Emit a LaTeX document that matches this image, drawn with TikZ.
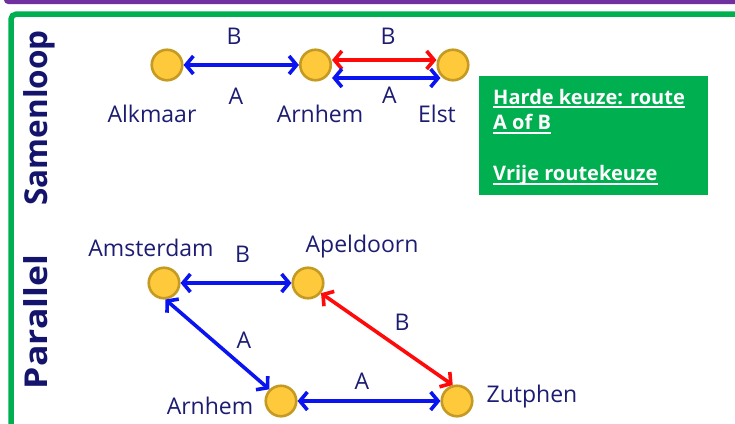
\documentclass[tikz,border=0pt]{standalone}
\usepackage{fontspec}
\setmainfont{Open Sans}
\usetikzlibrary{arrows.meta}
\definecolor{navy}{HTML}{1C1C72}
\definecolor{darknavy}{HTML}{14146C}
\definecolor{frgreen}{HTML}{00B050}
\definecolor{purp}{HTML}{7030A0}
\definecolor{stnfill}{HTML}{FFC93C}
\definecolor{stnedge}{HTML}{C49A22}
\definecolor{arblue}{HTML}{0A14F0}
\definecolor{arred}{HTML}{FF0A0A}
\newcommand\myul[1]{\setbox0\hbox{#1}\rlap{\vrule width \wd0 height -2.2pt depth 4.4pt}\box0}
\begin{document}
\begin{tikzpicture}[x=1pt,y=-1pt,
  station/.style={circle,fill=stnfill,draw=stnedge,line width=2.6pt,minimum size=30.5pt,inner sep=0pt},
  lbl/.style={text=navy,font=\fontsize{23}{26}\selectfont,anchor=base,inner sep=0pt},
  sidelbl/.style={text=darknavy,font=\fontsize{31.5}{32}\selectfont\bfseries,rotate=90,anchor=base,inner sep=0pt},
  boxline/.style={anchor=base west,text=white,font=\fontsize{20}{25.8}\selectfont\bfseries,inner sep=0pt},
  conn/.style={line width=3.6pt,{Straight Barb[length=7.5pt,width=18pt,line width=3.6pt]}-{Straight Barb[length=7.5pt,width=18pt,line width=3.6pt]}},
  blueconn/.style={conn,draw=arblue},
  redconn/.style={conn,draw=arred}]
\useasboundingbox (0,0) rectangle (735,423);
% purple bar
\fill[purp,rounded corners=4pt] (4,-20) rectangle (760,4);
% green frame
\draw[frgreen,line width=5.5pt,rounded corners=5pt] (11,440) -- (11,14.2) -- (760,14.2);
% side labels
\node[sidelbl] (samen) at (47.7,118) {Samenloop};
\node[sidelbl] (paral) at (47.7,322) {\scalebox{1.13}[1]{Parallel}};
% top stations
\node[station] (alk) at (167,65) {};
\node[station] (arn1) at (315.5,65) {};
\node[station] (elst) at (453,65) {};
\node[lbl] (talk) at (152,122) {Alkmaar};
\node[lbl] (tarn1) at (320,122) {Arnhem};
\node[lbl] (telst) at (437,122) {Elst};
\draw[blueconn] (alk) -- (arn1);
\draw[redconn] ([yshift=5pt]arn1.east) -- ([yshift=5pt]elst.west);
\draw[blueconn] ([yshift=-13pt,xshift=0pt]arn1.east) -- ([yshift=-13pt,xshift=4pt]elst.west);
\node[lbl] (b1) at (234,44) {B};
\node[lbl] (a1) at (236,104) {A};
\node[lbl] (b2) at (388,44) {B};
\node[lbl] (a2) at (389.5,103.5) {A};
% green box
\node[fill=frgreen,minimum width=229pt,minimum height=119pt,anchor=north west,inner sep=0pt] (box) at (479,76) {};
\node[boxline] (bl1) at (493,104) {\myul{Harde keuze: route}};
\node[boxline] (bl2) at (493,129.5) {\myul{A of B}};
\node[boxline] (bl3) at (493,180.7) {\myul{Vrije routekeuze}};
% bottom stations
\node[station] (ams) at (164,283) {};
\node[station] (ape) at (308,283) {};
\node[station] (arn2) at (281,401) {};
\node[station] (zut) at (457,401) {};
\node[lbl] (tams) at (151,256) {Amsterdam};
\node[lbl] (tape) at (362,252.5) {Apeldoorn};
\node[lbl] (tarn2) at (210,414) {Arnhem};
\node[lbl] (tzut) at (532,402.5) {Zutphen};
\draw[blueconn] (ams) -- (ape);
\draw[blueconn] (ams.-85) -- (arn2.135);
\draw[redconn] (ape.-38) -- (zut.105);
\draw[blueconn] (arn2) -- (zut);
\node[lbl] (b3) at (242.5,262.5) {B};
\node[lbl] (a3) at (244,348) {A};
\node[lbl] (b4) at (402,330.5) {B};
\node[lbl] (a4) at (362,389) {A};
\end{tikzpicture}
\end{document}
